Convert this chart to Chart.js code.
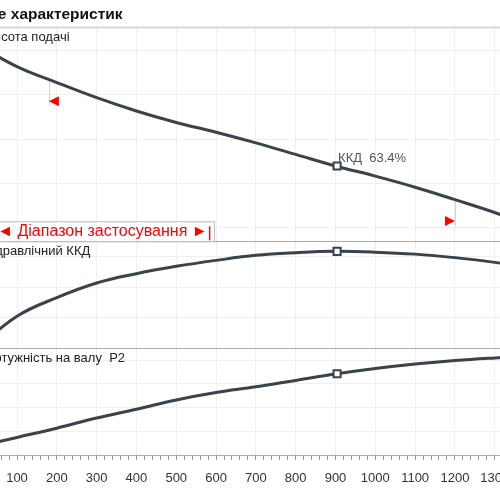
<!DOCTYPE html>
<html>
<head>
<meta charset="utf-8">
<script src="https://cdn.jsdelivr.net/npm/chart.js@4.4.1/dist/chart.umd.min.js"></script>
<style>
  html, body { margin: 0; padding: 0; width: 500px; height: 500px; overflow: hidden; background: #fff; }
  #wrap { position: absolute; left: -60px; top: 0; width: 620px; height: 500px; }
</style>
</head>
<body>
<div id="wrap"><canvas id="chart" width="620" height="500"></canvas></div>
<script>
// flow, m3/h
const flow = [0, 100, 200, 300, 400, 500, 600, 700, 800, 900, 1000, 1100, 1200, 1300, 1400]
// head, m
const head = [30.7, 28.2, 26.4, 24.7, 23.2, 21.9, 20.8, 19.6, 18.3, 17.0, 15.85, 14.6, 13.2, 11.75, 10.1]
// hydraulic efficiency, %
const efficiency = [0, 20.9, 33.1, 42.7, 48.8, 53.6, 57.5, 60.8, 62.5, 63.4, 62.9, 61.6, 59.3, 56.2, 52.5]
// shaft power P2
const power = [0.35, 0.74, 1.13, 1.56, 1.93, 2.32, 2.63, 2.87, 3.14, 3.41, 3.64, 3.83, 3.98, 4.09, 4.18]

const bestFlow = 904
const bestHead = 17.0
const bestEff = 63.4
const bestPower = 3.42

const rangeFlow = [180, 1200]
const rangeCurveHead = [26.7, 13.2]
const rangeMarkHead = [24.3, 10.8]

const panelNames = ['Висота подачі', 'Гідравлічний ККД', 'Потужність на валу  P2']
const rangeText = '◄ Діапазон застосування ►'

const FONT = "'Liberation Sans', Arial, sans-serif"
const LINE = '#3a424c'

const pts = (ys) => flow.map((q, i) => ({ x: q, y: ys[i] }))

const decor = {
    id: 'decor',
    beforeDatasetsDraw(chart) {
        const { ctx, chartArea, scales } = chart
        ctx.save()
        // top border
        ctx.strokeStyle = '#d9d9d9'
        ctx.lineWidth = 2
        ctx.beginPath()
        ctx.moveTo(0, chartArea.top)
        ctx.lineTo(chart.width, chartArea.top)
        ctx.stroke()
        // panel separators
        ctx.strokeStyle = '#aaa'
        ctx.lineWidth = 1
        ;[scales.yEff.top, scales.yPow.top].forEach(y => {
            ctx.beginPath()
            ctx.moveTo(chartArea.left, Math.round(y) + 0.5)
            ctx.lineTo(chartArea.right, Math.round(y) + 0.5)
            ctx.stroke()
        })
        // range guide lines
        ctx.strokeStyle = 'rgba(255, 0, 0, 0.25)'
        rangeFlow.forEach((q, i) => {
            const px = Math.round(scales.x.getPixelForValue(q)) + 0.5
            ctx.beginPath()
            ctx.moveTo(px, scales.yHead.getPixelForValue(rangeCurveHead[i]))
            ctx.lineTo(px, scales.yHead.getPixelForValue(rangeMarkHead[i]) + 5)
            ctx.stroke()
        })
        ctx.restore()
    },
    afterDatasetsDraw(chart) {
        const { ctx, chartArea, scales } = chart
        ctx.save()
        // range triangles
        ctx.fillStyle = '#ff0000'
        rangeFlow.forEach((q, i) => {
            const px = scales.x.getPixelForValue(q)
            const py = scales.yHead.getPixelForValue(rangeMarkHead[i])
            const dir = i === 0 ? 1 : -1
            ctx.beginPath()
            ctx.moveTo(px, py)
            ctx.lineTo(px + dir * 10, py - 5)
            ctx.lineTo(px + dir * 10, py + 5)
            ctx.closePath()
            ctx.fill()
        })
        // panel labels
        ctx.fillStyle = '#222'
        ctx.font = '13px ' + FONT
        ctx.textBaseline = 'middle'
        ;[scales.yHead, scales.yEff, scales.yPow].forEach((s, i) => {
            ctx.fillText(panelNames[i], chartArea.left + 8, s.top + 10)
        })
        // efficiency label at best point
        const bx = scales.x.getPixelForValue(bestFlow)
        const by = scales.yHead.getPixelForValue(bestHead)
        ctx.fillStyle = '#555'
        ctx.fillText('ККД  ' + bestEff.toFixed(1) + '%', bx + 1, by - 8)
        // range box
        const boxBottom = scales.yHead.bottom
        const boxTop = boxBottom - 20
        ctx.font = '16px ' + FONT
        const tx = chartArea.left + 20
        const tw = ctx.measureText(rangeText).width
        const barX = tx + tw + 2
        const boxLeft = chartArea.left + 8
        const boxRight = barX + 4.5
        ctx.fillStyle = '#fff'
        ctx.fillRect(boxLeft, boxTop, boxRight - boxLeft, boxBottom - boxTop)
        ctx.strokeStyle = '#bbb'
        ctx.lineWidth = 1
        ctx.strokeRect(boxLeft + 0.5, boxTop + 0.5, boxRight - boxLeft, boxBottom - boxTop)
        ctx.fillStyle = '#ff0000'
        ctx.fillText(rangeText, tx, boxTop + 10.5)
        ctx.strokeStyle = '#ff0000'
        ctx.lineWidth = 1.5
        ctx.beginPath()
        ctx.moveTo(barX, boxTop + 5)
        ctx.lineTo(barX, boxBottom - 1)
        ctx.stroke()
        ctx.restore()
    }
}

const marker = (y, axis) => ({
    data: [{ x: bestFlow, y: y }],
    yAxisID: axis,
    showLine: false,
    pointStyle: 'rect',
    pointRadius: 5,
    pointBorderWidth: 2,
    pointBackgroundColor: '#fff',
    pointBorderColor: LINE
})

const curve = (ys, axis) => ({
    data: pts(ys),
    yAxisID: axis,
    borderColor: LINE,
    borderWidth: 3,
    pointRadius: 0,
    fill: false,
    tension: 0.4
})

const yAxis = (weight, min, max, step) => ({
    type: 'linear',
    position: 'left',
    stack: 'panels',
    stackWeight: weight,
    min: min,
    max: max,
    ticks: { display: false, stepSize: step, includeBounds: false },
    grid: { color: '#efefef', drawTicks: false },
    border: { display: false },
    afterFit: s => { s.width = 9.2 }
})

new Chart(document.getElementById('chart'), {
    type: 'line',
    data: {
        datasets: [
            marker(bestHead, 'yHead'),
            marker(bestEff, 'yEff'),
            marker(bestPower, 'yPow'),
            curve(head, 'yHead'),
            curve(efficiency, 'yEff'),
            curve(power, 'yPow')
        ]
    },
    options: {
        responsive: false,
        animation: false,
        layout: { padding: { left: 28, right: 25.2, top: 0, bottom: 2.4 } },
        plugins: {
            legend: { display: false },
            tooltip: { enabled: false },
            title: {
                display: true,
                text: 'Поле характеристик',
                align: 'start',
                color: '#111',
                font: { size: 15.5, weight: 'bold', family: FONT },
                padding: { top: 5, bottom: 4 }
            }
        },
        scales: {
            x: {
                type: 'linear',
                min: 0,
                max: 1400,
                grid: {
                    color: c => (c.tick && Math.round(c.tick.value) % 100 === 0) ? '#efefef' : 'rgba(0,0,0,0)',
                    tickColor: '#999',
                    tickLength: 5
                },
                border: { color: '#aaa' },
                ticks: {
                    stepSize: 20,
                    autoSkip: false,
                    maxRotation: 0,
                    padding: 11,
                    color: '#333',
                    font: { size: 13, family: FONT },
                    callback: v => Math.round(v) % 100 === 0 ? v : ''
                }
            },
            yPow: yAxis(1, 0, 4.5, 1),
            yEff: yAxis(1, 0, 70, 20),
            yHead: yAxis(2, 8.5, 32.6, 5)
        }
    },
    plugins: [decor]
})
</script>
</body>
</html>
